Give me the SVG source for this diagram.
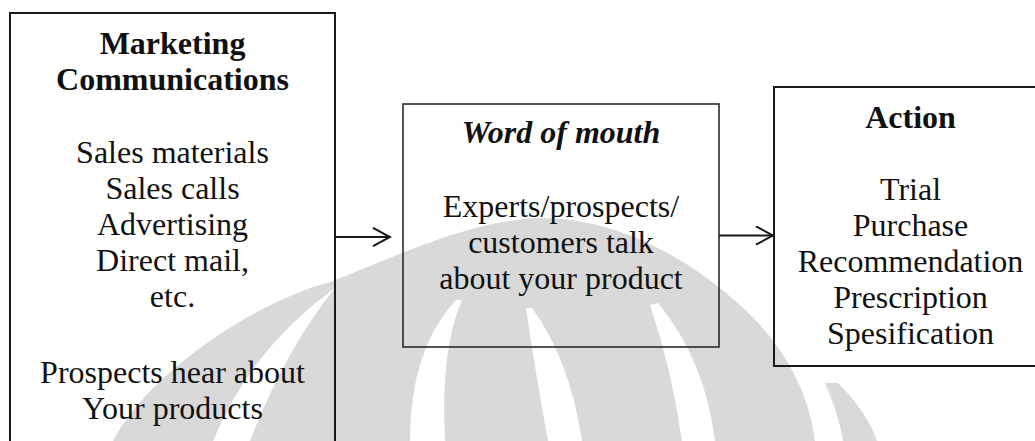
<svg xmlns="http://www.w3.org/2000/svg" width="1035" height="441" viewBox="0 0 1035 441">
  <style>
    .box { fill: none; stroke: #1a1a1a; stroke-width: 2; }
    .t { font-family: "Liberation Serif", "Times New Roman", serif; font-size: 32px; fill: #111; text-anchor: middle; }
    .b { font-weight: bold; }
    .bi { font-weight: bold; font-style: italic; }
    .wm { fill: #d9d9d9; stroke: none; }
    .wmw { fill: #ffffff; stroke: none; }
    .conn { fill: none; stroke: #1a1a1a; stroke-width: 2; }
  </style>
  <defs>
    <marker id="arrow" viewBox="0 0 20 20" refX="18" refY="10" markerWidth="20" markerHeight="20" markerUnits="userSpaceOnUse" orient="auto">
      <path d="M1,0.8 L18,10 L1,19.2" fill="none" stroke="#1a1a1a" stroke-width="2"/>
    </marker>
  </defs>
  <rect x="0" y="0" width="1035" height="441" fill="#ffffff"/>

  <g id="watermark">
    <path class="wm" d="M113,441 C150,370 260,300 330,282 C400,255 470,220 540,218 C620,218 690,260 740,305 C790,350 810,400 815,441 Z"/>
    <path class="wm" d="M825,383 L838,383 C855,400 870,420 877,441 L843,441 C840,420 832,400 825,383 Z"/>
    <path class="wmw" d="M335,288 Q250,350 213,441 L250,441 Q285,350 335,288 Z"/>
    <path class="wmw" d="M456,300 Q410,350 410,441 L445,441 Q440,350 462,300 Z"/>
    <path class="wmw" d="M526,308 Q535,370 548,441 L582,441 Q570,360 532,308 Z"/>
    <path class="wmw" d="M650,305 Q672,370 682,441 L715,441 Q705,360 658,303 Z"/>
  </g>

  <g id="connectors">
    <line class="conn" x1="335" y1="237" x2="390" y2="237" marker-end="url(#arrow)"/>
    <line class="conn" x1="719" y1="235.5" x2="773" y2="235.5" marker-end="url(#arrow)"/>
  </g>

  <g id="marketing-communications">
    <rect class="box" x="10" y="13" width="325" height="440"/>
    <text class="t b" x="172.5" y="54">Marketing</text>
    <text class="t b" x="172.5" y="90">Communications</text>
    <text class="t" x="172.5" y="163">Sales materials</text>
    <text class="t" x="172.5" y="199">Sales calls</text>
    <text class="t" x="172.5" y="235">Advertising</text>
    <text class="t" x="172.5" y="271">Direct mail,</text>
    <text class="t" x="172.5" y="307">etc.</text>
    <text class="t" x="172.5" y="383">Prospects hear about</text>
    <text class="t" x="172.5" y="419">Your products</text>
  </g>

  <g id="word-of-mouth">
    <rect class="box" x="403" y="104" width="316" height="243" style="stroke:#2a2a2a;stroke-width:1.6"/>
    <text class="t bi" x="561" y="143">Word of mouth</text>
    <text class="t" x="561" y="217">Experts/prospects/</text>
    <text class="t" x="561" y="253">customers talk</text>
    <text class="t" x="561" y="289">about your product</text>
  </g>

  <g id="action">
    <rect class="box" x="774" y="87" width="274" height="279"/>
    <text class="t b" x="910.5" y="128">Action</text>
    <text class="t" x="910.5" y="200">Trial</text>
    <text class="t" x="910.5" y="236">Purchase</text>
    <text class="t" x="910.5" y="272">Recommendation</text>
    <text class="t" x="910.5" y="308">Prescription</text>
    <text class="t" x="910.5" y="344">Spesification</text>
  </g>
</svg>
